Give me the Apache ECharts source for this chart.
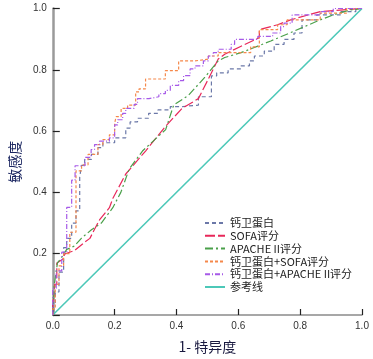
<!DOCTYPE html>
<html><head><meta charset="utf-8">
<script src="https://cdn.jsdelivr.net/npm/echarts@6/dist/echarts.min.js"></script>
<style>html,body{margin:0;padding:0;background:#fff}#c{width:373px;height:359px}</style>
</head><body><div id="c"></div>
<script>
var seriesNames = ['钙卫蛋白', 'SOFA评分', 'APACHE II评分', '钙卫蛋白+SOFA评分', '钙卫蛋白+APACHE II评分', '参考线'];
var xTicks = [0, 0.2, 0.4, 0.6, 0.8, 1.0];

var calprotectin = [[0,0],[0,0.04],[0.008,0.04],[0.008,0.075],[0.02,0.075],[0.02,0.14],[0.035,0.14],[0.035,0.22],[0.045,0.22],[0.045,0.25],[0.061,0.25],[0.061,0.3],[0.075,0.3],[0.075,0.34],[0.087,0.34],[0.087,0.45],[0.093,0.45],[0.093,0.488],[0.103,0.488],[0.103,0.508],[0.125,0.508],[0.125,0.524],[0.146,0.524],[0.146,0.546],[0.162,0.546],[0.162,0.562],[0.2,0.562],[0.2,0.578],[0.236,0.578],[0.236,0.61],[0.25,0.61],[0.25,0.63],[0.274,0.63],[0.274,0.642],[0.31,0.642],[0.31,0.658],[0.34,0.658],[0.34,0.669],[0.38,0.669],[0.38,0.68],[0.42,0.68],[0.42,0.685],[0.471,0.685],[0.471,0.712],[0.513,0.712],[0.513,0.78],[0.53,0.78],[0.53,0.79],[0.567,0.79],[0.567,0.803],[0.609,0.803],[0.609,0.813],[0.636,0.813],[0.636,0.829],[0.652,0.829],[0.652,0.845],[0.684,0.845],[0.684,0.861],[0.716,0.861],[0.716,0.883],[0.748,0.883],[0.748,0.899],[0.78,0.899],[0.78,0.92],[0.806,0.92],[0.806,0.963],[0.854,0.963],[0.854,0.979],[0.93,0.979],[0.93,0.99],[0.98,0.99],[0.98,1],[1,1]];

var sofa = [[0,0],[0,0.03],[0.006,0.03],[0.006,0.1],[0.013,0.1],[0.013,0.17],[0.03,0.18],[0.04,0.2],[0.07,0.21],[0.1,0.235],[0.12,0.25],[0.135,0.28],[0.151,0.31],[0.183,0.35],[0.194,0.38],[0.236,0.46],[0.3,0.535],[0.364,0.615],[0.418,0.674],[0.471,0.706],[0.503,0.77],[0.535,0.835],[0.556,0.851],[0.609,0.877],[0.668,0.905],[0.668,0.931],[0.727,0.947],[0.769,0.963],[0.865,0.99],[1,1]];

var apache = [[0,0],[0.005,0.1],[0.015,0.17],[0.03,0.19],[0.045,0.214],[0.07,0.225],[0.093,0.251],[0.125,0.278],[0.157,0.3],[0.194,0.35],[0.22,0.4],[0.247,0.476],[0.29,0.535],[0.365,0.605],[0.391,0.685],[0.439,0.717],[0.492,0.776],[0.535,0.829],[0.556,0.84],[0.609,0.856],[0.705,0.894],[0.78,0.926],[0.865,0.963],[0.907,0.979],[0.96,0.995],[1,1]];

var calSofa = [[0,0],[0,0.02],[0.008,0.02],[0.008,0.1],[0.02,0.1],[0.02,0.16],[0.035,0.16],[0.035,0.2],[0.055,0.2],[0.055,0.27],[0.075,0.27],[0.075,0.47],[0.093,0.47],[0.093,0.49],[0.114,0.49],[0.114,0.524],[0.146,0.524],[0.146,0.556],[0.162,0.556],[0.162,0.572],[0.183,0.572],[0.183,0.588],[0.2,0.588],[0.2,0.626],[0.205,0.626],[0.205,0.647],[0.221,0.647],[0.221,0.674],[0.242,0.674],[0.242,0.685],[0.268,0.685],[0.268,0.728],[0.279,0.728],[0.279,0.738],[0.3,0.738],[0.3,0.77],[0.364,0.77],[0.364,0.797],[0.407,0.797],[0.407,0.829],[0.46,0.829],[0.46,0.835],[0.503,0.835],[0.503,0.845],[0.535,0.845],[0.535,0.856],[0.64,0.856],[0.64,0.875],[0.668,0.875],[0.668,0.931],[0.727,0.931],[0.727,0.947],[0.758,0.947],[0.758,0.963],[0.865,0.963],[0.865,0.985],[0.95,0.985],[0.95,1],[1,1]];

var calApache = [[0,0],[0,0.087],[0.011,0.087],[0.011,0.144],[0.029,0.144],[0.029,0.205],[0.045,0.205],[0.045,0.351],[0.061,0.351],[0.061,0.44],[0.072,0.44],[0.072,0.487],[0.104,0.487],[0.104,0.514],[0.124,0.514],[0.124,0.54],[0.135,0.54],[0.135,0.556],[0.151,0.556],[0.151,0.567],[0.183,0.567],[0.183,0.578],[0.2,0.578],[0.2,0.62],[0.21,0.62],[0.21,0.637],[0.226,0.637],[0.226,0.658],[0.236,0.658],[0.236,0.674],[0.263,0.674],[0.263,0.687],[0.274,0.687],[0.274,0.706],[0.311,0.706],[0.311,0.712],[0.343,0.712],[0.343,0.722],[0.364,0.722],[0.364,0.733],[0.38,0.733],[0.38,0.749],[0.407,0.749],[0.407,0.765],[0.423,0.765],[0.423,0.781],[0.444,0.781],[0.444,0.803],[0.46,0.803],[0.46,0.813],[0.487,0.813],[0.487,0.829],[0.503,0.829],[0.503,0.845],[0.519,0.845],[0.519,0.856],[0.535,0.856],[0.535,0.867],[0.577,0.867],[0.577,0.883],[0.588,0.883],[0.588,0.899],[0.663,0.899],[0.663,0.909],[0.711,0.909],[0.711,0.92],[0.737,0.92],[0.737,0.941],[0.748,0.941],[0.748,0.952],[0.774,0.952],[0.774,0.979],[0.865,0.979],[0.865,0.99],[0.907,0.99],[0.907,1],[1,1]];

var reference = [[0,0],[1,1]];

var colors = ['#6b78a8', '#e8285a', '#4aa04a', '#f5884a', '#a65ae8', '#4cc8b8'];
var dashes = [[4,3], [10,3], [8,3,2,3], [3,2], [5,2,1,2], 'solid'];
var dataSets = [calprotectin, sofa, apache, calSofa, calApache, reference];

var chart = echarts.init(document.getElementById('c'), null, {renderer: 'canvas'});
var series = seriesNames.map(function (n, i) {
  return {
    name: n, type: 'line', data: dataSets[i], symbol: 'none', showSymbol: false,
    animation: false, z: i === 5 ? 1 : 2 + i,
    lineStyle: {color: colors[i], width: i === 5 ? 1.6 : 1.2, type: dashes[i]},
    itemStyle: {color: colors[i]}
  };
});
chart.setOption({
  animation: false,
  grid: {left: 49, right: 11, top: 8.5, bottom: 39, containLabel: false},
  legend: {
    orient: 'vertical', left: 199, top: 212, itemWidth: 20, itemHeight: 2, itemGap: 0.8, itemTextGap: 3,
    data: seriesNames,
    itemStyle: {opacity: 0},
    textStyle: {fontSize: 11, lineHeight: 12, color: '#222', fontFamily: 'Noto Sans CJK SC'}
  },
  xAxis: {
    type: 'value', min: 0, max: 1, interval: 0.2,
    name: '1- 特异度', nameLocation: 'middle', nameGap: 25,
    nameTextStyle: {fontSize: 14, color: '#1a1a40', fontFamily: 'Noto Sans CJK SC'},
    axisLine: {show: true, lineStyle: {color: '#8a8a8a', width: 1.5}},
    axisTick: {show: true, inside: true, length: 6, lineStyle: {color: '#222', width: 1.2}},
    axisLabel: {margin: 6, fontSize: 10, color: '#333', fontFamily: 'Liberation Sans', formatter: function (v) { return v.toFixed(1); }},
    splitLine: {show: false}
  },
  yAxis: {
    type: 'value', min: 0, max: 1, interval: 0.2, offset: 2,
    name: '敏感度', nameLocation: 'middle', nameGap: 28, nameRotate: 90,
    nameTextStyle: {fontSize: 14, color: '#1a2560', fontFamily: 'Noto Sans CJK SC'},
    axisLine: {show: true, lineStyle: {color: '#9a9a9a', width: 2.5}},
    axisTick: {show: true, inside: true, length: 7, lineStyle: {color: '#222', width: 1.2}},
    axisLabel: {margin: 4, fontSize: 10, color: '#333', fontFamily: 'Liberation Sans', formatter: function (v) { return v === 0 ? '' : v.toFixed(1); }},
    splitLine: {show: false}
  },
  series: series
});
</script></body></html>
